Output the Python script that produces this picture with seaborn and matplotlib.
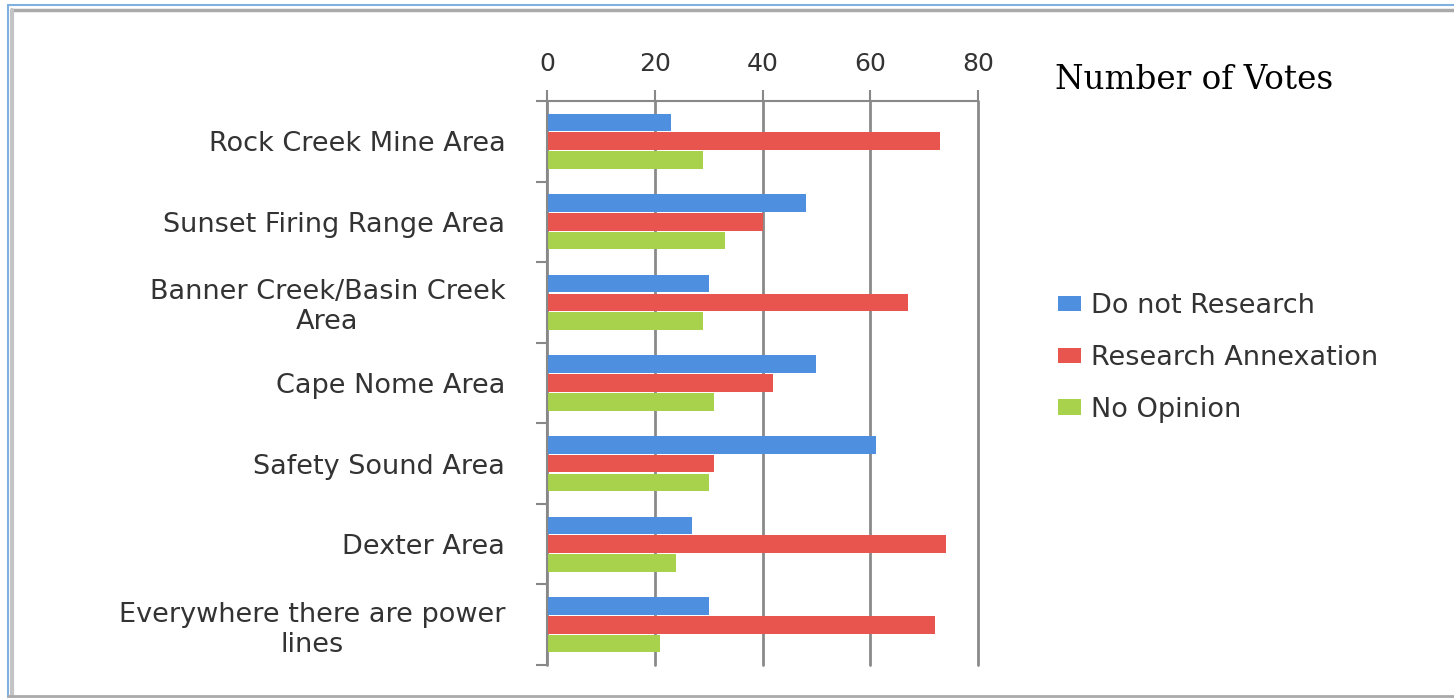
import numpy as np
import pandas as pd
import matplotlib
matplotlib.use("Agg")
import matplotlib.pyplot as plt
from matplotlib.patches import Patch
from matplotlib.lines import Line2D
import seaborn as sns

# Survey areas and vote counts per answer
areas = [
    "Rock Creek Mine Area",
    "Sunset Firing Range Area",
    "Banner Creek/Basin Creek\nArea",
    "Cape Nome Area",
    "Safety Sound Area",
    "Dexter Area",
    "Everywhere there are power\nlines",
]
do_not_research = [23, 48, 30, 50, 61, 27, 30]
research_annexation = [73, 40, 67, 42, 31, 74, 72]
no_opinion = [29, 33, 29, 31, 30, 24, 21]
answers = ["Do not Research", "Research Annexation", "No Opinion"]
x_ticks = [0, 20, 40, 60, 80]
title_text = "Number of Votes"

colors = ["#4e8fdf", "#e8554f", "#a8d24b"]

df = pd.DataFrame({
    "Area": areas * 3,
    "Answer": [answers[0]] * 7 + [answers[1]] * 7 + [answers[2]] * 7,
    "Votes": do_not_research + research_annexation + no_opinion,
})

sns.set_theme(style="white")
plt.rcParams["font.family"] = ["DejaVu Sans"]

W, H = 1454, 698
fig = plt.figure(figsize=(W / 100, H / 100), dpi=100, facecolor="white")
ax = fig.add_axes([547 / W, 1 - 665 / H, (978 - 547) / W, (665 - 101) / H])

sns.barplot(data=df, y="Area", x="Votes", hue="Answer", order=areas,
            hue_order=answers, palette=colors, orient="h", width=0.7, gap=0.06,
            saturation=1, ax=ax, legend=False, linewidth=0)

ax.set_xlim(0, 80)
ax.set_ylim(6.5, -0.5)
ax.xaxis.tick_top()
ax.set_xticks(x_ticks)
ax.set_xticklabels([str(t) for t in x_ticks], fontsize=18, color="#333333")
ax.tick_params(axis="x", which="major", length=8, width=1.5, color="#888888",
               pad=10, direction="out")
ax.set_xlabel("")
ax.set_ylabel("")

ax.set_yticks(range(len(areas)))
ax.set_yticklabels(areas, fontsize=19.5, color="#333333", multialignment="center")
ax.set_yticks(np.arange(-0.5, len(areas)), minor=True)
ax.tick_params(axis="y", which="major", length=0, pad=30)
ax.tick_params(axis="y", which="minor", length=8, width=1.5, color="#888888",
               direction="out", left=True)

ax.grid(axis="x", color="#8a8a8a", linewidth=2)
ax.grid(axis="y", visible=False)
for gl in ax.get_xgridlines():
    gl.set_clip_on(False)
ax.set_axisbelow(True)
for side in ["right", "bottom"]:
    ax.spines[side].set_visible(False)
for side in ["top", "left"]:
    ax.spines[side].set_color("#888888")
    ax.spines[side].set_linewidth(1.5)

handles = [Patch(facecolor=c, edgecolor="none") for c in colors]
fig.legend(handles, answers, loc="center left",
           bbox_to_anchor=(1034 / W, 1 - 358 / H), frameon=False,
           fontsize=19.5, labelcolor="#333333", handlelength=0.85,
           handleheight=0.5, handletextpad=0.35, labelspacing=0.95)

fig.text(1055 / W, 1 - 80 / H, title_text, fontsize=23.5,
         family="DejaVu Serif", color="black", va="center", ha="left")

# Window frame: blue edge with a grey shadow on top and left, grey base line
def frame_line(xs, ys, color, lw):
    fig.lines.append(Line2D([x / W for x in xs], [1 - y / H for y in ys],
                            transform=fig.transFigure, color=color, linewidth=lw))

frame_line([8, W], [5, 5], "#7fb0e0", 1.5)
frame_line([8, 8], [5, 697], "#7fb0e0", 1.5)
frame_line([12, W], [10, 10], "#aaaaaa", 2.5)
frame_line([12, 12], [10, 696], "#c4c4c4", 3)
frame_line([8, W], [696, 696], "#aaaaaa", 2)

fig.savefig("out.png", dpi=100, facecolor="white")
